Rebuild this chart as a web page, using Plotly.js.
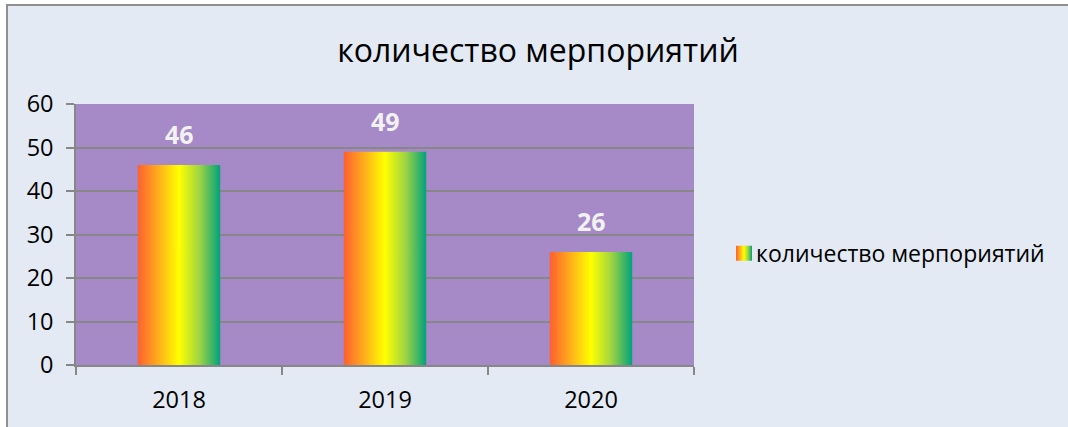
<!DOCTYPE html>
<html>
<head>
<meta charset="utf-8">
<script src="https://cdn.plot.ly/plotly-3.0.1.min.js"></script>
<style>
html,body{margin:0;padding:0;background:#ffffff;}
#chart{position:absolute;left:6px;top:4px;width:1062px;height:423px;box-sizing:border-box;border-top:2px solid #8f8f8f;border-left:2px solid #8f8f8f;background:#E3EAF4;}
</style>
</head>
<body>
<div id="chart"></div>
<script>
const chartTitle = 'количество мерпориятий';
const seriesName = 'количество мерпориятий';
const years = ['2018', '2019', '2020'];
const values = [46, 49, 26];
const yTicks = [0, 10, 20, 30, 40, 50, 60];

const font = '"Open Sans", "Noto Sans", sans-serif';

const trace = {
  type: 'bar',
  x: years,
  y: values,
  name: seriesName,
  marker: {color: '#FFFF00', line: {width: 0}},
  hoverinfo: 'x+y'
};

// on a category axis, annotation x is given as the category index
const annotations = years.map((yr, i) => ({
  x: i, y: values[i], xref: 'x', yref: 'y',
  text: '<b>' + values[i] + '</b>',
  showarrow: false, yanchor: 'bottom', yshift: 12,
  font: {family: font, size: 25, color: '#F2F2F2'}
}));

const layout = {
  width: 1060, height: 421,
  margin: {l: 68, r: 374, t: 98, b: 62},
  paper_bgcolor: 'rgba(0,0,0,0)',
  plot_bgcolor: '#A689C7',
  title: {text: chartTitle, x: 0.5, xanchor: 'center', y: 0.893, yanchor: 'middle',
          font: {family: font, size: 32, color: '#000000'}},
  bargap: 0.6,
  xaxis: {
    type: 'category',
    categoryorder: 'array', categoryarray: years,
    range: [-0.5, years.length - 0.5],
    showline: true, linecolor: '#878787', linewidth: 1.5,
    ticks: 'outside', ticklen: 8, tickcolor: '#878787', tickwidth: 1.5,
    tickson: 'boundaries',
    showgrid: false,
    tickangle: 0,
    tickfont: {family: font, size: 23.5, color: '#000000'},
    ticklabelstandoff: 13
  },
  yaxis: {
    range: [0, 60],
    tickvals: yTicks,
    showline: true, linecolor: '#878787', linewidth: 1.5,
    ticks: 'outside', ticklen: 8, tickcolor: '#878787', tickwidth: 1.5,
    showgrid: true, gridcolor: '#878787', gridwidth: 1.5,
    zeroline: false,
    tickfont: {family: font, size: 23.5, color: '#000000'},
    ticklabelstandoff: 8
  },
  showlegend: true,
  legend: {x: 1.0356, xanchor: 'left', y: 0.428, yanchor: 'middle',
           bgcolor: 'rgba(0,0,0,0)', font: {family: font, size: 23, color: '#000000'}},
  annotations: annotations
};

function applyGradient(gd) {
  const svg = gd.querySelector('svg.main-svg');
  const ns = 'http://www.w3.org/2000/svg';
  let defs = svg.querySelector('defs');
  if (!defs) { defs = document.createElementNS(ns, 'defs'); svg.insertBefore(defs, svg.firstChild); }
  if (!svg.querySelector('#barGrad')) {
    const g = document.createElementNS(ns, 'linearGradient');
    g.setAttribute('id', 'barGrad');
    g.setAttribute('x1', '0'); g.setAttribute('y1', '0');
    g.setAttribute('x2', '1'); g.setAttribute('y2', '0');
    const stops = [[0, '#FF6030'], [0.25, '#FFAE1C'], [0.5, '#FFFF00'], [0.75, '#9ED443'], [1, '#00A27C']];
    stops.forEach(s => {
      const st = document.createElementNS(ns, 'stop');
      st.setAttribute('offset', s[0]);
      st.setAttribute('stop-color', s[1]);
      g.appendChild(st);
    });
    defs.appendChild(g);
  }
  gd.querySelectorAll('.barlayer .point path').forEach(p => { p.style.fill = 'url(#barGrad)'; });
  gd.querySelectorAll('.legend .legendpoints path').forEach(p => {
    p.setAttribute('d', 'M16,7.5H0V-7.5H16Z');
    p.style.fill = 'url(#barGrad)';
    p.style.stroke = 'none';
  });
}

Plotly.newPlot('chart', [trace], layout, {displayModeBar: false, responsive: false}).then(gd => {
  applyGradient(gd);
  gd.on('plotly_afterplot', () => applyGradient(gd));
});
</script>
</body>
</html>
